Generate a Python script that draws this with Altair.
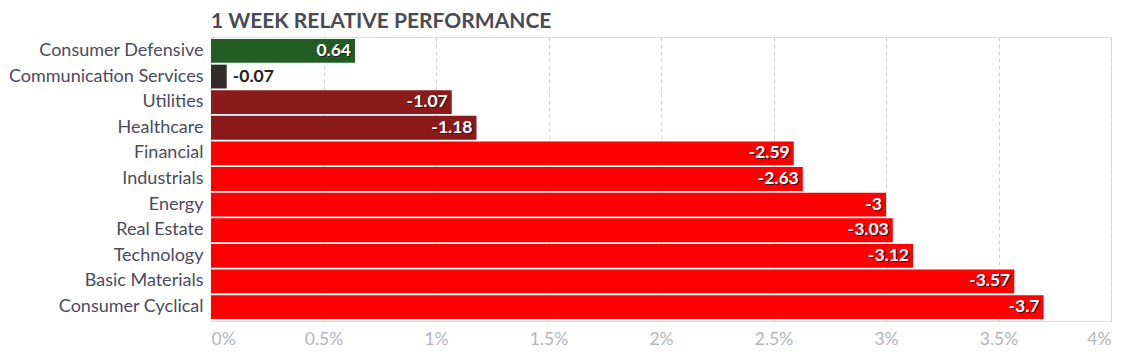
import altair as alt
import pandas as pd

sectors = ["Consumer Defensive", "Communication Services", "Utilities", "Healthcare",
           "Financial", "Industrials", "Energy", "Real Estate", "Technology",
           "Basic Materials", "Consumer Cyclical"]
changes = [0.64, -0.07, -1.07, -1.18, -2.59, -2.63, -3.0, -3.03, -3.12, -3.57, -3.7]
x_ticks = [0, 0.5, 1, 1.5, 2, 2.5, 3, 3.5, 4]


def tier(v):
    if v > 0:
        return "up"
    if v > -0.5:
        return "flat"
    if v > -2:
        return "down"
    return "strong"


df = pd.DataFrame({"sector": sectors, "change": changes})
df["magnitude"] = df["change"].abs()
df["label"] = df["change"].map(lambda v: f"{v:g}")
df["tier"] = df["change"].map(tier)
df["inside"] = df["magnitude"] > 0.3

FONT = "Lato"

y_enc = alt.Y("sector:N", sort=sectors, title=None,
              scale=alt.Scale(paddingInner=0.07, paddingOuter=0.08),
              axis=alt.Axis(domain=False, ticks=False, grid=False, labelPadding=8,
                            labelLimit=0, labelFontSize=18, labelColor="#4b4b5b",
                            labelFont=FONT))
x_enc = alt.X("magnitude:Q", title=None,
              scale=alt.Scale(domain=[0, 4], nice=False),
              axis=alt.Axis(values=x_ticks, labelExpr="datum.value + '%'",
                            domain=False, ticks=False, grid=True, gridDash=[4, 3],
                            gridColor="#d2d2d2", labelPadding=9, labelFontSize=17.5,
                            labelColor="#b4b4bc", labelFont=FONT))

base = alt.Chart(df)

bars = base.mark_bar().encode(
    x=x_enc,
    y=y_enc,
    color=alt.Color("tier:N", legend=None,
                    scale=alt.Scale(domain=["up", "flat", "down", "strong"],
                                    range=["#215d22", "#332b2b", "#8b1a1a", "#ff0000"])),
)

inside = base.transform_filter("datum.inside")
shadow = inside.mark_text(align="right", baseline="middle", dx=-3, dy=1,
                          font=FONT, fontSize=17.5, fontWeight="bold",
                          color="#1a1a1a", opacity=0.8).encode(
    x="magnitude:Q", y=alt.Y("sector:N", sort=sectors), text="label:N")
inner_text = inside.mark_text(align="right", baseline="middle", dx=-4,
                              font=FONT, fontSize=17.5, fontWeight="bold",
                              color="#ffffff").encode(
    x="magnitude:Q", y=alt.Y("sector:N", sort=sectors), text="label:N")
outer_text = base.transform_filter("!datum.inside").mark_text(
    align="left", baseline="middle", dx=6, font=FONT, fontSize=17.5,
    fontWeight="bold", color="#222222").encode(
    x="magnitude:Q", y=alt.Y("sector:N", sort=sectors), text="label:N")

chart = alt.layer(bars, shadow, inner_text, outer_text).properties(
    width=900, height=284,
    padding={"left": 0, "top": 3, "right": 20, "bottom": 5},
    title=alt.TitleParams("1 WEEK RELATIVE PERFORMANCE", anchor="start", frame="group",
                          font=FONT, fontSize=21, fontWeight="bold",
                          color="#4a4a56", offset=5),
).configure_view(stroke="#d2d2d2", strokeDash=[4, 3]).configure(background="white")

chart.save("out.html", embed_options={"renderer": "svg", "actions": False})
